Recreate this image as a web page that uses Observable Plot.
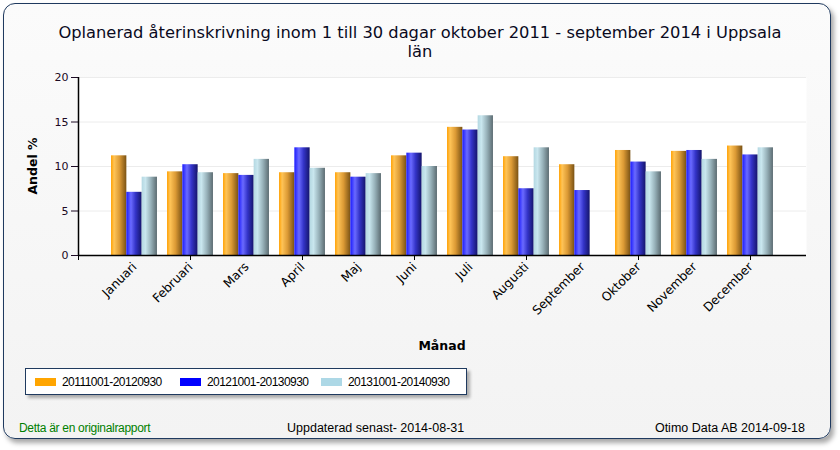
<!DOCTYPE html>
<html>
<head>
<meta charset="utf-8">
<script src="https://cdn.jsdelivr.net/npm/d3@7"></script>
<script src="https://cdn.jsdelivr.net/npm/@observablehq/plot@0.6"></script>
<style>
  html, body { margin: 0; padding: 0; background: #ffffff; }
  #page { position: relative; width: 840px; height: 450px; overflow: hidden; }
  #card { position: absolute; left: 3px; top: 3px; width: 826px; height: 434px;
          border: 1.5px solid #1f3a5f; border-radius: 12px;
          box-shadow: 3px 4px 5px rgba(0,0,0,0.35);
          background: linear-gradient(to bottom, #fbfbfb, #f3f3f3); }
  #title { position: absolute; left: 0; top: 23px; width: 840px; text-align: center;
           font-family: "DejaVu Sans", Verdana, sans-serif; font-size: 16.3px; line-height: 19px; color: #0a0a1e; }
  #ytitle { position: absolute; left: 32px; top: 166px; transform: translate(-50%, -50%) rotate(-90deg);
            font-family: "DejaVu Sans", Verdana, sans-serif; font-size: 12.5px; font-weight: bold; white-space: nowrap; color: #000; }
  #xtitle { position: absolute; left: 442px; top: 345px; transform: translate(-50%, -50%);
            font-family: "DejaVu Sans", Verdana, sans-serif; font-size: 12.5px; font-weight: bold; white-space: nowrap; color: #000; }
  #chart { position: absolute; left: 0; top: 60px; }
  #legend { position: absolute; left: 25px; top: 368px; width: 440px; height: 25px;
            border: 1.5px solid #1f3a5f; background: #ffffff; box-shadow: 3px 3px 3px rgba(0,0,0,0.3); }
  .item { position: absolute; top: 0; height: 25px; display: flex; align-items: center;
          font-family: "Liberation Sans", Arial, sans-serif; font-size: 12px; letter-spacing: -0.55px; color: #000; white-space: nowrap; }
  .sw { display: inline-block; width: 21px; height: 8px; margin-right: 6px; }
  .foot { position: absolute; top: 420px; font-family: "Liberation Sans", Arial, sans-serif; font-size: 12.5px; color: #000; white-space: nowrap; line-height: 16px; }
</style>
</head>
<body>
<div id="page">
  <div id="card"></div>
  <div id="title">Oplanerad återinskrivning inom 1 till 30 dagar oktober 2011 - september 2014 i Uppsala<br>län</div>
  <div id="chart"></div>
  <div id="ytitle">Andel %</div>
  <div id="xtitle">Månad</div>
  <div id="legend"></div>
  <div class="foot" id="f1" style="left:19px; color:#008000; font-size:12px; letter-spacing:-0.3px;">Detta är en originalrapport</div>
  <div class="foot" id="f2" style="left:287px;">Uppdaterad senast- 2014-08-31</div>
  <div class="foot" id="f3" style="right:35px;">Otimo Data AB 2014-09-18</div>
</div>
<script>
// ---- data ----
const months = ["Januari", "Februari", "Mars", "April", "Maj", "Juni", "Juli", "Augusti", "September", "Oktober", "November", "December"];
const seriesNames = ["20111001-20120930", "20121001-20130930", "20131001-20140930"];
const s2011 = [11.2, 9.4, 9.2, 9.3, 9.3, 11.2, 14.4, 11.1, 10.2, 11.8, 11.7, 12.3];
const s2012 = [7.1, 10.2, 9.0, 12.1, 8.8, 11.5, 14.1, 7.5, 7.3, 10.5, 11.8, 11.3];
const s2013 = [8.8, 9.3, 10.8, 9.8, 9.2, 10.0, 15.7, 12.1, null, 9.4, 10.8, 12.1];
const seriesColors = ["#FFA500", "#0000FF", "#ADD8E6"];
const yTicks = [0, 5, 10, 15, 20];

const seriesValues = [s2011, s2012, s2013];
const rows = [];
months.forEach((m, i) => {
  seriesValues.forEach((vals, k) => {
    if (vals[i] != null) rows.push({month: m, m: i + 1, k, series: seriesNames[k], value: vals[i]});
  });
});
const monthRows = months.map((m, i) => ({month: m, m: i + 1}));
const xTickPositions = d3.range(0, 13, 2);

const groupHalf = 0.41, barW = 0.82 / 3;

const chart = Plot.plot({
  width: 840,
  height: 300,
  marginLeft: 78,
  marginRight: 34,
  marginTop: 17,
  marginBottom: 105,
  style: {background: "transparent", fontFamily: "DejaVu Sans, Verdana, sans-serif", fontSize: "11px", overflow: "visible"},
  x: {type: "linear", domain: [0, 13], axis: null},
  y: {domain: [0, 20], axis: null},
  color: {type: "ordinal", domain: seriesNames, range: ["url(#gOrange)", "url(#gBlue)", "url(#gLight)"]},
  marks: [
    Plot.frame({fill: "white", stroke: null}),
    Plot.ruleY(yTicks.filter(t => t > 0), {stroke: "#ececec", strokeWidth: 1}),
    Plot.rect(rows, {
      x1: d => d.m - groupHalf + d.k * barW,
      x2: d => d.m - groupHalf + (d.k + 1) * barW,
      y1: d => 0,
      y2: "value",
      fill: "series"
    }),
    Plot.axisY({ticks: yTicks, tickSize: 7, tickPadding: 3, color: "#1c0a24", fontSize: 11, label: null}),
    Plot.axisX({ticks: xTickPositions, tickSize: 5, tickFormat: () => "", label: null, color: "black"}),
    Plot.ruleX([0], {y1: 0, y2: 20, stroke: "black", strokeWidth: 1.5}),
    Plot.ruleY([0], {stroke: "black", strokeWidth: 1.5}),
    Plot.text(monthRows, {
      x: "m", frameAnchor: "bottom", text: "month", rotate: -45, textAnchor: "end",
      dx: 3, dy: 12, fontSize: 12.3, fill: "#000"
    })
  ]
});

d3.select(chart).insert("defs", ":first-child").html(`
  <linearGradient id="gOrange" x1="0" x2="1" y1="0" y2="0">
    <stop offset="0" stop-color="#ffa000"/>
    <stop offset="0.2" stop-color="#ffc457"/>
    <stop offset="0.55" stop-color="#dc9a35"/>
    <stop offset="1" stop-color="#7a5214"/>
  </linearGradient>
  <linearGradient id="gBlue" x1="0" x2="1" y1="0" y2="0">
    <stop offset="0" stop-color="#1a1aff"/>
    <stop offset="0.3" stop-color="#6a6aff"/>
    <stop offset="0.6" stop-color="#3434c8"/>
    <stop offset="1" stop-color="#14146a"/>
  </linearGradient>
  <linearGradient id="gLight" x1="0" x2="1" y1="0" y2="0">
    <stop offset="0" stop-color="#b4d8e2"/>
    <stop offset="0.25" stop-color="#c9e6ee"/>
    <stop offset="0.6" stop-color="#98b2ba"/>
    <stop offset="1" stop-color="#5c6c72"/>
  </linearGradient>`);

document.getElementById("chart").appendChild(chart);

// legend
const legend = document.getElementById("legend");
const legendX = [9, 154, 295];
seriesNames.forEach((name, k) => {
  const item = document.createElement("div");
  item.className = "item";
  item.style.left = legendX[k] + "px";
  const sw = document.createElement("span");
  sw.className = "sw";
  sw.style.background = seriesColors[k];
  item.appendChild(sw);
  item.appendChild(document.createTextNode(name));
  legend.appendChild(item);
});
</script>
</body>
</html>
